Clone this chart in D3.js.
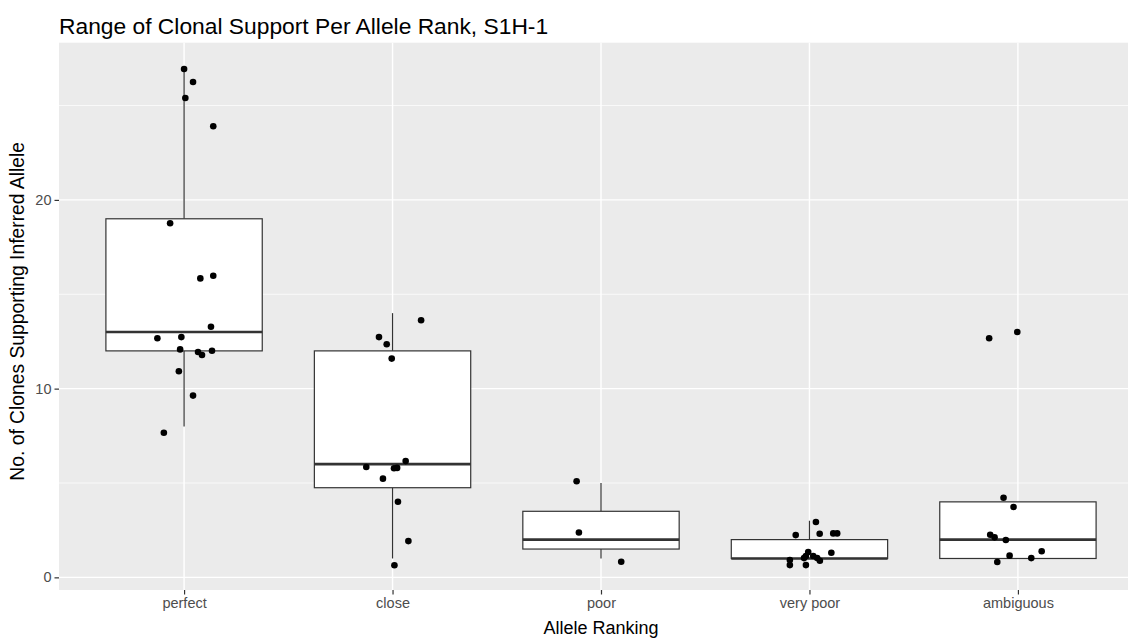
<!DOCTYPE html>
<html>
<head>
<meta charset="utf-8">
<script src="https://cdn.jsdelivr.net/npm/d3@7"></script>
<style>
  html, body { margin: 0; padding: 0; background: #fff; }
  svg { display: block; font-family: "Liberation Sans", Arial, sans-serif; }
</style>
</head>
<body>
<svg id="chart" width="1128" height="638"></svg>
<script>
// ---- data ----
const categories = ["perfect", "close", "poor", "very poor", "ambiguous"];
const yTicks = [0, 10, 20];
const yMinorTicks = [5, 15, 25];

// box statistics per category: lower whisker, q1, median, q3, upper whisker
const whiskerLow  = [8, 1, 1, 1, 1];
const q1Values    = [12, 4.75, 1.5, 1, 1];
const medianValues= [13, 6, 2, 1, 2];
const q3Values    = [19, 12, 3.5, 2, 4];
const whiskerHigh = [27, 14, 5, 3, 4];

// jittered points: horizontal jitter (fraction of category step), value
const perfectPts = [[0.000,26.94],[0.043,26.25],[0.006,25.40],[0.140,23.90],[-0.067,18.76],
  [0.078,15.84],[0.140,15.98],[0.129,13.28],[-0.128,12.67],[-0.013,12.73],[-0.019,12.08],
  [0.067,11.94],[0.086,11.78],[0.134,12.01],[-0.025,10.92],[0.043,9.63],[-0.097,7.66]];
const closePts = [[0.137,13.62],[-0.065,12.73],[-0.028,12.35],[-0.004,11.59],[0.063,6.16],
  [-0.126,5.85],[0.007,5.78],[0.022,5.80],[-0.046,5.23],[0.026,4.01],[0.076,1.92],[0.009,0.64]];
const poorPts = [[-0.117,5.09],[-0.106,2.38],[0.097,0.83]];
const veryPoorPts = [[0.031,2.93],[-0.066,2.24],[0.049,2.31],[0.114,2.33],[0.133,2.33],
  [0.105,1.30],[-0.006,1.34],[-0.017,1.13],[-0.026,1.02],[0.018,1.13],[0.037,1.02],
  [0.050,0.88],[-0.094,0.92],[-0.094,0.65],[-0.017,0.65]];
const ambiguousPts = [[-0.138,12.67],[-0.003,13.00],[-0.069,4.22],[-0.021,3.73],[-0.133,2.26],
  [-0.112,2.12],[-0.058,1.98],[0.114,1.38],[-0.040,1.15],[0.064,1.02],[-0.099,0.81]];
const pointsByCategory = [perfectPts, closePts, poorPts, veryPoorPts, ambiguousPts];

const titleText = "Range of Clonal Support Per Allele Rank, S1H-1";
const xTitle = "Allele Ranking";
const yTitle = "No. of Clones Supporting Inferred Allele";

// ---- layout ----
const panel = { left: 59, right: 1143, top: 42.7, bottom: 590 };
const svg = d3.select("#chart");

const x = d3.scalePoint().domain(categories).range([panel.left, panel.right]).padding(0.6);
const step = x.step();
const y = d3.scaleLinear().domain([-0.67, 28.33]).range([panel.bottom, panel.top]);

// panel background
svg.append("rect")
  .attr("x", panel.left).attr("y", panel.top)
  .attr("width", panel.right - panel.left).attr("height", panel.bottom - panel.top)
  .attr("fill", "#EBEBEB");

const grid = svg.append("g");
grid.selectAll(".minor").data(yMinorTicks).join("line")
  .attr("x1", panel.left).attr("x2", panel.right)
  .attr("y1", d => y(d)).attr("y2", d => y(d))
  .attr("stroke", "#fff").attr("stroke-width", 0.7);
grid.selectAll(".majory").data(yTicks).join("line")
  .attr("x1", panel.left).attr("x2", panel.right)
  .attr("y1", d => y(d)).attr("y2", d => y(d))
  .attr("stroke", "#fff").attr("stroke-width", 1.4);
grid.selectAll(".majorx").data(categories).join("line")
  .attr("y1", panel.top).attr("y2", panel.bottom)
  .attr("x1", d => x(d)).attr("x2", d => x(d))
  .attr("stroke", "#fff").attr("stroke-width", 1.4);

// boxes
const boxW = step * 0.75;
const boxes = svg.append("g");
categories.forEach((c, i) => {
  const cx = x(c);
  const g = boxes.append("g");
  g.append("line").attr("x1", cx).attr("x2", cx)
    .attr("y1", y(q3Values[i])).attr("y2", y(whiskerHigh[i]))
    .attr("stroke", "#333").attr("stroke-width", 1.2);
  g.append("line").attr("x1", cx).attr("x2", cx)
    .attr("y1", y(q1Values[i])).attr("y2", y(whiskerLow[i]))
    .attr("stroke", "#333").attr("stroke-width", 1.2);
  g.append("rect")
    .attr("x", cx - boxW / 2).attr("width", boxW)
    .attr("y", y(q3Values[i])).attr("height", y(q1Values[i]) - y(q3Values[i]))
    .attr("fill", "#fff").attr("stroke", "#333").attr("stroke-width", 1.2);
  g.append("line").attr("x1", cx - boxW / 2).attr("x2", cx + boxW / 2)
    .attr("y1", y(medianValues[i])).attr("y2", y(medianValues[i]))
    .attr("stroke", "#333").attr("stroke-width", 2.6);
});

// points
const pts = svg.append("g");
categories.forEach((c, i) => {
  pts.selectAll(null).data(pointsByCategory[i]).join("circle")
    .attr("cx", d => x(c) + d[0] * step)
    .attr("cy", d => y(d[1]))
    .attr("r", 3.3)
    .attr("fill", "#000");
});

// axes
const yAxis = svg.append("g").attr("transform", `translate(${panel.left},0)`)
  .call(d3.axisLeft(y).tickValues(yTicks).tickSize(4.5).tickPadding(3));
const xAxis = svg.append("g").attr("transform", `translate(0,${panel.bottom})`)
  .call(d3.axisBottom(x).tickSize(4.5).tickPadding(3));
[yAxis, xAxis].forEach(a => {
  a.select(".domain").remove();
  a.selectAll(".tick line").attr("stroke", "#333").attr("stroke-width", 1.2);
  a.selectAll(".tick text").attr("fill", "#4D4D4D")
    .style("font-size", "14.5px").style("font-family", "'Liberation Sans', Arial, sans-serif");
});

// titles
svg.append("text").attr("x", 59).attr("y", 33.5)
  .attr("fill", "#000").style("font-size", "22.8px").text(titleText);
svg.append("text").attr("x", (panel.left + panel.right) / 2).attr("y", 634)
  .attr("text-anchor", "middle").attr("fill", "#000").style("font-size", "18px").text(xTitle);
svg.append("text")
  .attr("transform", `translate(23.5,${(panel.top + panel.bottom) / 2 - 5}) rotate(-90)`)
  .attr("text-anchor", "middle").attr("fill", "#000").style("font-size", "19.3px").text(yTitle);
</script>
</body>
</html>
